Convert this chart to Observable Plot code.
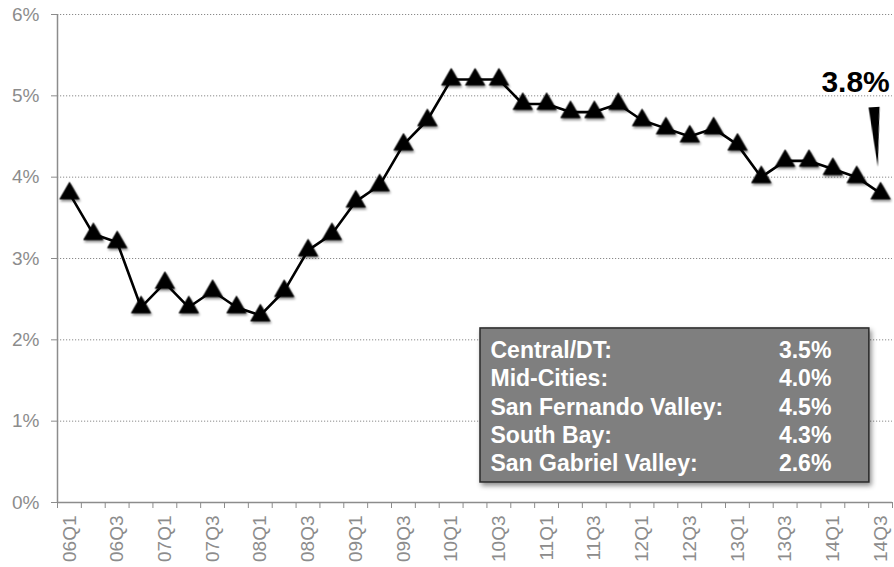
<!DOCTYPE html>
<html>
<head>
<meta charset="utf-8">
<script src="https://cdn.jsdelivr.net/npm/d3@7"></script>
<script src="https://cdn.jsdelivr.net/npm/@observablehq/plot@0.6"></script>
<style>
  html, body { margin: 0; padding: 0; background: #fff; }
  #chart svg { display: block; }
  g[aria-label="dot"] { filter: drop-shadow(1px 2px 1.2px rgba(0,0,0,0.45)); }
  g[aria-label="rect"] rect { filter: drop-shadow(2px 3px 2.5px rgba(0,0,0,0.45)); }
</style>
</head>
<body>
<div id="chart"></div>
<script>
const quarters = ["06Q1","06Q2","06Q3","06Q4","07Q1","07Q2","07Q3","07Q4",
  "08Q1","08Q2","08Q3","08Q4","09Q1","09Q2","09Q3","09Q4",
  "10Q1","10Q2","10Q3","10Q4","11Q1","11Q2","11Q3","11Q4",
  "12Q1","12Q2","12Q3","12Q4","13Q1","13Q2","13Q3","13Q4",
  "14Q1","14Q2","14Q3"];
const vacancy = [3.8,3.3,3.2,2.4,2.7,2.4,2.6,2.4,
  2.3,2.6,3.1,3.3,3.7,3.9,4.4,4.7,
  5.2,5.2,5.2,4.9,4.9,4.8,4.8,4.9,
  4.7,4.6,4.5,4.6,4.4,4.0,4.2,4.2,
  4.1,4.0,3.8];
const yTicks = [0,1,2,3,4,5,6];
const regions = ["Central/DT:","Mid-Cities:","San Fernando Valley:","South Bay:","San Gabriel Valley:"];
const regionValues = [3.5,4.0,4.5,4.3,2.6];

const data = quarters.map((q, i) => ({i, q, v: vacancy[i]}));
const last = data[data.length - 1];
const labelTicks = d3.range(0, quarters.length, 2);
const boundaryTicks = d3.range(-0.5, quarters.length, 1);

// legend box in data coordinates
const box = {x1: 17.23, x2: 33.53, y1: 0.246, y2: 2.14};
const grey = "#8c8c8c";

const chart = Plot.plot({
  width: 894,
  height: 567,
  marginLeft: 57,
  marginRight: 2,
  marginTop: 14,
  marginBottom: 65,
  style: {fontFamily: "'Liberation Sans', Arial, sans-serif", background: "#fff"},
  x: {type: "linear", domain: [-0.5, quarters.length - 0.5], axis: null},
  y: {domain: [0, 6], axis: null},
  marks: [
    Plot.gridY(yTicks.filter(d => d > 0), {stroke: "#8a8a8a", strokeOpacity: 1, strokeWidth: 1, strokeDasharray: "1.2,1.8"}),
    Plot.ruleY([0], {stroke: grey, strokeWidth: 1.5}),
    Plot.ruleX([-0.5], {stroke: grey, strokeWidth: 1.5}),
    // y ticks and labels
    Plot.axisY({ticks: yTicks, tickSize: 6, tickPadding: 12, tickFormat: () => "", color: grey}),
    Plot.text(yTicks, {y: d => d, x: -0.5, dx: -18, text: d => d + "%", textAnchor: "end", lineAnchor: "middle", fontSize: 19, fill: grey}),
    // x ticks and labels
    Plot.axisX({ticks: boundaryTicks, tickSize: 6, tickFormat: () => "", color: grey}),
    Plot.text(labelTicks, {x: d => d, y: 0, dy: 13, text: d => quarters[d], rotate: -90, textAnchor: "end", lineAnchor: "middle", fontSize: 19, fill: grey}),
    // series
    Plot.line(data, {x: "i", y: "v", stroke: "#000", strokeWidth: 2.6}),
    Plot.dot(data, {x: "i", y: "v", symbol: "triangle", r: 7.2, fill: "#000", stroke: "#000", strokeWidth: 0.8}),
    // legend box
    Plot.rect([box], {x1: "x1", x2: "x2", y1: "y1", y2: "y2", fill: "#7f7f7f", stroke: "#2a2a2a", strokeWidth: 1.5}),
    Plot.text([regions.join("\n")], {x: box.x1, y: (box.y1 + box.y2) / 2, dx: 10, text: d => d, textAnchor: "start", lineAnchor: "middle", lineHeight: 1.226, fontSize: 23, fontWeight: "bold", fill: "#fff"}),
    Plot.text([regionValues.map(v => v.toFixed(1) + "%").join("\n")], {x: box.x2, y: (box.y1 + box.y2) / 2, dx: -38, text: d => d, textAnchor: "end", lineAnchor: "middle", lineHeight: 1.226, fontSize: 23, fontWeight: "bold", fill: "#fff"}),
    // callout
    Plot.text([last], {x: "i", y: 5.165, dx: -25, text: d => d.v.toFixed(1) + "%", fontSize: 30, fontWeight: "bold", fill: "#000", lineAnchor: "middle"}),
    Plot.vector([last], {x: "i", y: 4.86, dx: -6.5, length: 60, rotate: 176.4, anchor: "start", shape: "spike", r: 5.5, fill: "#000", stroke: "none"})
  ]
});
document.getElementById("chart").appendChild(chart);
</script>
</body>
</html>
